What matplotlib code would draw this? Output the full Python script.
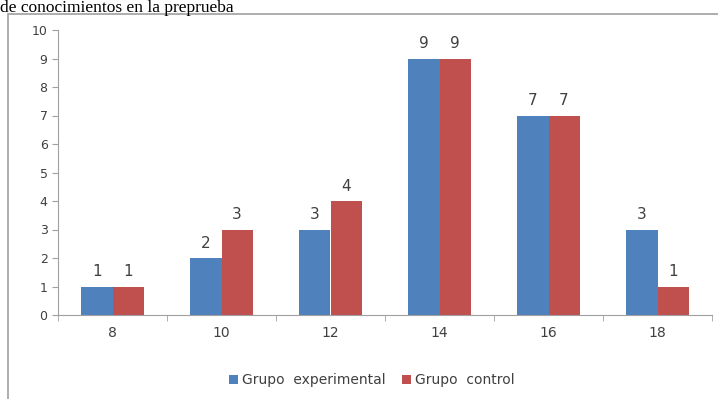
import numpy as np
import matplotlib.pyplot as plt
from matplotlib.patches import Rectangle

# --- Data ---
notas = ['8', '10', '12', '14', '16', '18']
experimental = [1, 2, 3, 9, 7, 3]
control = [1, 3, 4, 9, 7, 1]

azul = '#4F81BD'
rojo = '#C0504D'

fig = plt.figure(figsize=(7.18, 3.99), dpi=100)
fig.patch.set_facecolor('white')

# caption line from the document above the chart
fig.text(0.0, 1 - 12 / 399, 'de conocimientos en la preprueba', family='Liberation Serif',
         fontsize=12.5, color='black', va='baseline', ha='left')

# chart frame
fig.patches.append(Rectangle((8 / 718, -0.01), 1.0, 1 - 14 / 399 + 0.01,
                             transform=fig.transFigure, fill=False,
                             edgecolor='#a0a0a0', linewidth=1.2))

ax = fig.add_axes([58 / 718, 1 - 315 / 399, 654 / 718, 285 / 399])

x = np.arange(len(notas))
w = 0.285
b1 = ax.bar(x - w / 2, experimental, w, color=azul, label='Grupo  experimental')
b2 = ax.bar(x + w / 2, control, w, color=rojo, label='Grupo  control')

for bars, vals in ((b1, experimental), (b2, control)):
    for r, v in zip(bars, vals):
        ax.text(r.get_x() + r.get_width() / 2, v + 0.25, str(v),
                ha='center', va='bottom', fontsize=11, color='#404040')

ax.set_xlim(-0.5, len(notas) - 0.5)
ax.set_ylim(0, 10)
ax.set_yticks(range(0, 11))
ax.tick_params(axis='y', labelsize=9, colors='#404040', length=4, color='#a0a0a0')
ax.set_xticks(x)
ax.set_xticklabels(notas, fontsize=10, color='#404040')
ax.tick_params(axis='x', length=0, pad=8)
# tick marks between categories
ax.set_xticks(np.arange(-0.5, len(notas)), minor=True)
ax.tick_params(axis='x', which='minor', length=4, color='#a0a0a0')

for s in ('top', 'right'):
    ax.spines[s].set_visible(False)
for s in ('left', 'bottom'):
    ax.spines[s].set_color('#a0a0a0')

ax.legend(loc='upper center', bbox_to_anchor=(0.48, -0.16), ncol=2, frameon=False,
          fontsize=10, handlelength=0.6, handleheight=0.6, columnspacing=1.2,
          handletextpad=0.3, labelcolor='#404040')

fig.savefig('out.png', dpi=100)
